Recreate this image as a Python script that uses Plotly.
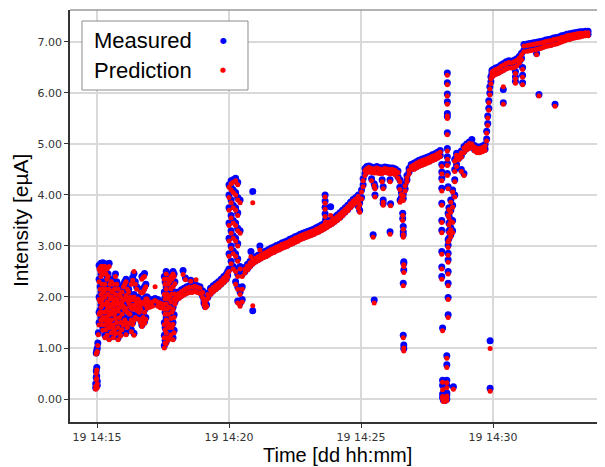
import numpy as np
import pandas as pd
import plotly.graph_objects as go

# ---------------- data (time = minutes after 14:00 on day 19) ----------------
# each time has one or more measured values and matching predicted values

start_time = [14.95, 14.97, 14.99, 15.01, 15.03, 15.05]
start_meas = [[0.22, 0.30], [0.42, 0.55, 0.90], [0.62, 0.45, 0.95], [0.27, 0.35, 1.00], [1.10], [1.30]]
start_pred = [[0.19, 0.25], [0.38, 0.50, 0.88], [0.57, 0.40, 0.90], [0.22, 0.30, 0.93], [1.05], [1.26]]

noisy_time = [15.08, 15.15, 15.22, 15.30, 15.38, 15.46, 15.54, 15.62, 15.70, 15.80,
              15.90, 16.00, 16.10, 16.20, 16.30, 16.40, 16.50, 16.60, 16.70, 16.80, 16.90]
noisy_meas = [[2.62, 2.35, 2.00, 1.70, 1.50], [2.66, 2.45, 2.10, 1.85, 1.60],
              [2.67, 2.50, 2.20, 1.90, 1.65, 1.40], [2.65, 2.30, 2.05, 1.75, 1.50, 1.25],
              [2.60, 2.40, 1.95, 1.80, 1.55, 1.30], [2.66, 2.20, 1.90, 1.70, 1.45, 1.20],
              [2.35, 2.05, 1.85, 1.60, 1.35], [2.30, 2.00, 1.80, 1.50, 1.25],
              [2.45, 2.10, 1.90, 1.62, 1.32], [2.20, 1.95, 1.75, 1.45, 1.20],
              [2.05, 1.85, 1.55, 1.28], [2.25, 2.00, 1.85, 1.50],
              [2.35, 2.08, 1.82, 1.55, 1.30], [2.15, 1.92, 1.72, 1.52],
              [2.30, 1.98, 1.82, 1.60, 1.36], [2.46, 2.05, 1.88, 1.58, 1.29],
              [2.20, 1.95, 1.78, 1.62], [1.95, 1.85, 1.75, 1.60],
              [2.40, 2.12, 1.90, 1.60, 1.45], [2.46, 2.20, 1.95, 1.75, 1.52],
              [2.00, 1.90, 1.82]]
noisy_pred = [[2.55, 2.30, 1.95, 1.66, 1.45], [2.60, 2.40, 2.05, 1.80, 1.55],
              [2.60, 2.45, 2.15, 1.85, 1.60, 1.35], [2.60, 2.25, 2.00, 1.70, 1.45, 1.20],
              [2.55, 2.35, 1.90, 1.75, 1.50, 1.25], [2.60, 2.15, 1.85, 1.65, 1.40, 1.16],
              [2.30, 2.00, 1.80, 1.55, 1.30], [2.25, 1.95, 1.75, 1.45, 1.20],
              [2.40, 2.05, 1.85, 1.58, 1.28], [2.15, 1.90, 1.72, 1.40, 1.16],
              [2.00, 1.80, 1.50, 1.24], [2.20, 1.95, 1.82, 1.45],
              [2.30, 2.03, 1.78, 1.50, 1.26], [2.10, 1.88, 1.68, 1.48],
              [2.25, 1.94, 1.78, 1.55, 1.32], [2.50, 2.00, 1.84, 1.54, 1.25],
              [2.15, 1.90, 1.74, 1.58], [1.90, 1.82, 1.70, 1.56],
              [2.35, 2.08, 1.86, 1.55, 1.42], [2.40, 2.15, 1.90, 1.70, 1.48],
              [1.96, 1.86, 1.78]]

noisy2_time = [15.12, 15.19, 15.26, 15.34, 15.42, 15.50, 15.58, 15.66, 15.75, 15.85,
               15.95, 16.05, 16.15, 16.25, 16.35, 16.45, 16.55, 16.65, 16.75, 16.85,
               16.95, 17.58, 17.66, 17.75, 17.84, 17.92]
noisy2_meas = [[2.55, 2.20, 1.95, 1.75], [2.60, 2.30, 2.00, 1.75, 1.50],
               [2.55, 2.15, 1.90, 1.60], [2.50, 2.20, 1.90, 1.65, 1.40],
               [2.45, 2.10, 1.85, 1.60], [2.30, 2.00, 1.75, 1.50],
               [2.15, 1.90, 1.70, 1.45], [2.20, 1.95, 1.70, 1.40],
               [2.30, 2.00, 1.80, 1.55], [2.10, 1.90, 1.65, 1.35],
               [2.15, 1.95, 1.70, 1.40], [2.30, 2.00, 1.78, 1.60],
               [2.20, 1.98, 1.75, 1.45], [2.05, 1.88, 1.70],
               [2.38, 2.00, 1.80, 1.50], [2.30, 1.98, 1.82, 1.65],
               [2.00, 1.88, 1.78], [2.15, 1.95, 1.80, 1.55],
               [2.42, 2.15, 1.92, 1.65], [2.25, 2.00, 1.88, 1.60],
               [1.95, 1.86], [2.30, 2.00, 1.70, 1.40, 1.15],
               [2.40, 2.10, 1.80, 1.55, 1.25], [2.35, 2.05, 1.85, 1.50, 1.25],
               [2.40, 2.10, 1.75, 1.45], [2.45, 2.00, 1.65, 1.35]]
noisy2_pred = [[2.50, 2.15, 1.90, 1.70], [2.55, 2.25, 1.95, 1.70, 1.46],
               [2.50, 2.10, 1.86, 1.56], [2.45, 2.15, 1.86, 1.60, 1.36],
               [2.40, 2.05, 1.80, 1.56], [2.25, 1.96, 1.70, 1.46],
               [2.10, 1.86, 1.66, 1.40], [2.15, 1.90, 1.66, 1.36],
               [2.25, 1.96, 1.76, 1.50], [2.05, 1.86, 1.60, 1.30],
               [2.10, 1.90, 1.66, 1.36], [2.25, 1.96, 1.74, 1.55],
               [2.15, 1.94, 1.70, 1.40], [2.00, 1.84, 1.66],
               [2.33, 1.96, 1.76, 1.46], [2.25, 1.94, 1.78, 1.60],
               [1.96, 1.84, 1.74], [2.10, 1.90, 1.76, 1.50],
               [2.38, 2.10, 1.88, 1.60], [2.20, 1.96, 1.84, 1.56],
               [1.90, 1.82], [2.25, 1.96, 1.66, 1.36, 1.10],
               [2.35, 2.05, 1.76, 1.50, 1.20], [2.30, 2.00, 1.80, 1.46, 1.20],
               [2.35, 2.06, 1.70, 1.40], [2.40, 1.96, 1.60, 1.30]]

calm_time = [17.00, 17.10, 17.20, 17.30, 17.40, 17.50,
             17.55, 17.62, 17.70, 17.80, 17.88, 17.95,
             18.00, 18.10, 18.20, 18.30, 18.40, 18.50, 18.60, 18.70, 18.80, 18.90,
             19.00, 19.05, 19.10, 19.15, 19.20, 19.30, 19.40, 19.50, 19.60, 19.70,
             19.80, 19.90, 19.95]
calm_meas = [[1.92, 1.84], [1.95, 1.86], [1.97, 1.88], [1.95, 1.86], [1.92, 1.83], [1.90, 1.82],
             [2.40, 2.10, 1.80, 1.50, 1.25, 1.05], [2.50, 2.20, 1.90, 1.60, 1.35, 1.12],
             [2.30, 2.00, 1.70, 1.45, 1.20], [2.45, 2.20, 1.95, 1.62, 1.30],
             [2.50, 2.25, 1.80, 1.50, 1.20], [2.30, 2.10, 1.90],
             [2.05, 1.96], [2.10, 2.00], [2.14, 2.04], [2.17, 2.07], [2.20, 2.10],
             [2.22, 2.12], [2.22, 2.12], [2.24, 2.14], [2.22, 2.12], [2.20, 2.10],
             [2.12, 2.02], [1.95, 1.88], [1.82, 1.90], [1.85, 1.98], [2.08, 2.00],
             [2.17, 2.08], [2.22, 2.13], [2.26, 2.17], [2.30, 2.21], [2.35, 2.26],
             [2.40, 2.31], [2.45, 2.36], [2.50, 2.42]]
calm_pred = [[1.88, 1.80], [1.90, 1.82], [1.93, 2.20], [1.90, 1.82], [1.88, 1.79], [1.86, 1.78],
             [2.35, 2.05, 1.76, 1.46, 1.20, 1.00], [2.45, 2.15, 1.86, 1.55, 1.30, 1.08],
             [2.25, 1.96, 1.66, 1.40, 1.15], [2.40, 2.16, 1.90, 1.58, 1.26],
             [2.45, 2.20, 1.76, 1.46, 1.16], [2.26, 2.06, 1.86],
             [2.02, 1.93], [2.07, 1.97], [2.11, 2.01], [2.14, 2.04], [2.17, 2.07],
             [2.19, 2.09], [2.19, 2.09], [2.21, 2.11], [2.19, 2.09], [2.17, 2.07],
             [2.09, 1.99], [1.92, 1.85], [1.79, 1.87], [1.82, 1.95], [2.05, 1.97],
             [2.14, 2.05], [2.19, 2.10], [2.23, 2.14], [2.27, 2.18], [2.32, 2.23],
             [2.37, 2.28], [2.42, 2.33], [2.47, 2.39]]

jump_time = [20.00, 20.08, 20.16, 20.25, 20.33, 20.42, 20.50]
jump_meas = [[2.55, 2.85, 3.15, 3.45, 3.75, 4.00, 4.20],
             [2.70, 3.00, 3.30, 3.60, 3.90, 4.15, 4.28],
             [2.60, 2.90, 3.20, 3.50, 3.80, 4.10, 4.30],
             [4.33, 4.05, 3.75, 3.45, 3.15, 2.85, 2.55, 2.30],
             [4.25, 3.95, 3.65, 3.35, 3.05, 2.75, 2.45, 2.20, 1.92],
             [3.90, 3.30, 2.60, 2.10, 1.88],
             [1.95, 2.20, 2.45]]
jump_pred = [[2.50, 2.80, 3.10, 3.40, 3.70, 3.95, 4.15],
             [2.65, 2.95, 3.25, 3.55, 3.85, 4.10, 4.22],
             [2.55, 2.85, 3.15, 3.45, 3.75, 4.05, 4.25],
             [4.28, 4.00, 3.70, 3.40, 3.10, 2.80, 2.50, 2.25],
             [4.20, 3.90, 3.60, 3.30, 3.00, 2.70, 2.40, 2.15, 1.88],
             [3.85, 3.25, 2.55, 2.05, 1.82],
             [1.90, 2.15, 2.40]]

ramp_time = [20.6, 20.7, 20.8, 20.9, 21.0, 21.1, 21.2, 21.3, 21.4, 21.5,
             21.6, 21.7, 21.8, 21.9, 22.0, 22.1, 22.2, 22.3, 22.4, 22.5,
             22.6, 22.7, 22.8, 22.9, 23.0, 23.1, 23.2, 23.3, 23.4, 23.5,
             23.6, 23.7, 23.8, 23.9, 24.0, 24.1, 24.2, 24.3, 24.4, 24.5,
             24.6, 24.7, 24.8, 24.9, 24.95]
ramp_meas = [[2.58, 2.50], [2.64, 2.56], [2.70, 2.62], [2.75, 2.67], [2.79, 2.71],
             [2.82, 2.74], [2.85, 2.77], [2.88, 2.80], [2.90, 2.82], [2.93, 2.85],
             [2.96, 2.88], [2.98, 2.90], [3.01, 2.93], [3.03, 2.95], [3.06, 2.98],
             [3.08, 3.00], [3.10, 3.02], [3.13, 3.05], [3.15, 3.07], [3.18, 3.10],
             [3.20, 3.12], [3.23, 3.15], [3.25, 3.17], [3.27, 3.19], [3.29, 3.21],
             [3.31, 3.23], [3.33, 3.25], [3.36, 3.28], [3.38, 3.30], [3.41, 3.33],
             [3.44, 3.36], [3.47, 3.39], [3.50, 3.42], [3.53, 3.45], [3.57, 3.49],
             [3.61, 3.53], [3.65, 3.57], [3.70, 3.62], [3.75, 3.67], [3.80, 3.72],
             [3.86, 3.78], [3.91, 3.83], [3.95, 3.87], [4.00, 3.90, 3.78], [3.70, 3.85]]
ramp_pred = [[2.55, 2.47], [2.61, 2.53], [2.67, 2.59], [2.72, 2.64], [2.76, 2.68],
             [2.79, 2.71], [2.82, 2.74], [2.85, 2.77], [2.87, 2.79], [2.90, 2.82],
             [2.93, 2.85], [2.95, 2.87], [2.98, 2.90], [3.00, 2.92], [3.03, 2.95],
             [3.05, 2.97], [3.07, 2.99], [3.10, 3.02], [3.12, 3.04], [3.15, 3.07],
             [3.17, 3.09], [3.20, 3.12], [3.22, 3.14], [3.24, 3.16], [3.26, 3.18],
             [3.28, 3.20], [3.30, 3.22], [3.33, 3.25], [3.35, 3.27], [3.38, 3.30],
             [3.41, 3.33], [3.44, 3.36], [3.47, 3.39], [3.50, 3.42], [3.54, 3.46],
             [3.58, 3.50], [3.62, 3.54], [3.67, 3.59], [3.72, 3.64], [3.77, 3.69],
             [3.83, 3.75], [3.88, 3.80], [3.92, 3.84], [3.97, 3.87, 3.74], [3.66, 3.81]]

plateau_time = [25.02, 25.08, 25.15, 25.22, 25.30, 25.40, 25.50, 25.60, 25.70, 25.80,
                25.90, 26.00, 26.10, 26.20, 26.30, 26.40, 26.47, 26.53, 26.60, 26.67,
                26.74, 26.82, 26.90, 27.00, 27.10, 27.20, 27.30, 27.40, 27.50, 27.60,
                27.70, 27.80, 27.90, 28.00]
plateau_meas = [[3.95, 4.10], [4.20, 4.32], [4.42, 4.52], [4.56, 4.48], [4.57, 4.48],
                [4.55, 4.47, 4.32], [4.54, 4.46, 4.22], [4.56, 4.46], [4.54, 4.45],
                [4.53, 4.45, 4.30], [4.55, 4.47], [4.54, 4.46], [4.53, 4.44, 4.30],
                [4.53, 4.45], [4.51, 4.42], [4.47, 4.36], [4.30, 4.15], [4.05, 3.95],
                [3.93, 4.02], [4.12, 4.22], [4.30, 4.38], [4.45, 4.52], [4.55, 4.60],
                [4.62, 4.53], [4.65, 4.56], [4.68, 4.59], [4.70, 4.61], [4.72, 4.63],
                [4.74, 4.65], [4.76, 4.67], [4.79, 4.70], [4.81, 4.72], [4.84, 4.75],
                [4.87, 4.78]]
plateau_pred = [[3.92, 4.06], [4.16, 4.28], [4.38, 4.48], [4.52, 4.44], [4.54, 4.45],
                [4.52, 4.44, 4.28], [4.51, 4.43, 4.18], [4.53, 4.43], [4.51, 4.42],
                [4.50, 4.42, 4.26], [4.52, 4.44], [4.51, 4.43], [4.50, 4.41, 4.26],
                [4.50, 4.42], [4.48, 4.39], [4.44, 4.33], [4.26, 4.11], [4.01, 3.91],
                [3.89, 3.98], [4.08, 4.18], [4.26, 4.34], [4.41, 4.48], [4.51, 4.56],
                [4.59, 4.50], [4.62, 4.53], [4.65, 4.56], [4.67, 4.58], [4.69, 4.60],
                [4.71, 4.62], [4.73, 4.64], [4.76, 4.67], [4.78, 4.69], [4.81, 4.72],
                [4.84, 4.75]]

dip_time = [28.06, 28.09, 28.12, 28.18, 28.25, 28.27, 28.30, 28.50]
dip_meas = [[4.60, 4.45, 4.33, 4.13, 3.84, 3.50, 3.31, 2.89, 2.59, 2.40],
            [1.39, 0.37, 0.27, 0.10, 0.03],
            [-0.02, 0.05],
            [0.04, -0.03],
            [0.85, 0.67, 0.37, 0.27, 0.08, 0.00, 0.12],
            [6.39, 6.20, 5.98, 5.83, 5.60, 5.54, 5.22, 4.91, 4.75, 4.62, 4.42],
            [4.16, 3.64, 3.12, 3.02, 2.86, 2.73, 2.50, 2.27, 1.99, 1.65],
            [0.24]]
dip_pred = [[4.56, 4.41, 4.28, 4.08, 3.80, 3.46, 3.26, 2.84, 2.55, 2.35],
            [1.34, 0.33, 0.18, 0.05, 0.00],
            [-0.05, 0.02],
            [0.00, -0.05],
            [0.80, 0.62, 0.32, 0.22, 0.02, -0.03, 0.06],
            [6.35, 6.16, 5.94, 5.78, 5.55, 5.50, 5.18, 4.86, 4.70, 4.58, 4.38],
            [4.12, 3.60, 3.08, 2.97, 2.82, 2.68, 2.45, 2.22, 1.95, 1.60],
            [0.19]]

recover_time = [28.33, 28.40, 28.47, 28.55, 28.62, 28.70, 28.80, 28.90, 29.00, 29.10,
                29.20, 29.30, 29.40, 29.50, 29.60, 29.70, 29.76, 29.80, 29.84, 29.88,
                29.92, 29.96]
recover_meas = [[3.15, 3.30, 3.45, 3.60, 3.75], [3.22, 3.36, 3.52, 3.70, 3.90],
                [3.30, 3.50, 3.80, 4.10], [4.00, 4.30, 4.50, 4.70], [4.60, 4.75, 4.82],
                [4.80, 4.72], [4.86, 4.77, 4.50], [4.95, 4.86, 4.42], [5.00, 4.91],
                [5.04, 4.94], [5.09, 4.96], [4.97, 4.89], [4.94, 4.86], [4.94, 4.86],
                [4.96, 4.88], [4.99, 4.90], [5.10, 5.25], [5.40, 5.55], [5.70, 5.85],
                [6.00, 6.12], [6.22, 6.32], [6.38, 6.44]]
recover_pred = [[3.11, 3.26, 3.41, 3.56, 3.71], [3.18, 3.32, 3.48, 3.66, 3.86],
                [3.26, 3.46, 3.76, 4.06], [3.96, 4.26, 4.46, 4.66], [4.56, 4.71, 4.78],
                [4.77, 4.69], [4.83, 4.74, 4.46], [4.92, 4.83, 4.38], [4.97, 4.88],
                [5.01, 4.91], [5.00, 4.93], [4.94, 4.86], [4.91, 4.83], [4.91, 4.83],
                [4.93, 4.85], [4.96, 4.87], [5.06, 5.21], [5.36, 5.51], [5.66, 5.81],
                [5.96, 6.08], [6.18, 6.28], [6.34, 6.40]]

top_time = [30.0, 30.1, 30.2, 30.3, 30.4, 30.5, 30.6, 30.7, 30.8, 30.85,
            30.9, 31.0, 31.08, 31.12, 31.17, 31.3, 31.4, 31.5, 31.6, 31.7,
            31.8, 31.9, 32.0, 32.1, 32.2, 32.3, 32.4, 32.5, 32.6, 32.7,
            32.8, 32.9, 33.0, 33.1, 33.2, 33.3, 33.4, 33.5, 33.6]
top_meas = [[6.46, 6.36], [6.49, 6.39], [6.51, 6.41], [6.55, 6.44], [6.58, 6.47],
            [6.61, 6.50], [6.63, 6.52], [6.62, 6.52], [6.64, 6.53], [6.42, 6.32, 6.23],
            [6.67, 6.56], [6.72, 6.62], [6.78, 6.68], [6.50, 6.35, 6.20], [6.95, 6.84],
            [6.96, 6.85], [6.97, 6.86], [6.98, 6.87], [6.99, 6.88], [7.00, 6.89],
            [7.01, 6.90], [7.02, 6.92], [7.04, 6.94], [7.05, 6.95], [7.06, 6.96],
            [7.08, 6.98], [7.09, 6.99], [7.10, 7.01], [7.12, 7.03], [7.13, 7.05],
            [7.15, 7.07], [7.16, 7.08], [7.17, 7.10], [7.18, 7.11], [7.19, 7.12],
            [7.20, 7.13], [7.20, 7.14], [7.21, 7.15], [7.21, 7.15]]
top_pred = [[6.43, 6.33], [6.46, 6.36], [6.48, 6.38], [6.52, 6.41], [6.55, 6.44],
            [6.58, 6.47], [6.60, 6.49], [6.59, 6.49], [6.61, 6.50], [6.38, 6.28, 6.19],
            [6.64, 6.53], [6.69, 6.59], [6.75, 6.65], [6.46, 6.31, 6.16], [6.92, 6.81],
            [6.93, 6.82], [6.94, 6.83], [6.95, 6.84], [6.96, 6.85], [6.97, 6.86],
            [6.98, 6.87], [6.99, 6.89], [7.01, 6.91], [7.02, 6.92], [7.03, 6.93],
            [7.05, 6.95], [7.06, 6.96], [7.07, 6.98], [7.09, 7.00], [7.10, 7.02],
            [7.12, 7.04], [7.13, 7.05], [7.14, 7.07], [7.15, 7.08], [7.16, 7.09],
            [7.17, 7.10], [7.17, 7.11], [7.18, 7.12], [7.18, 7.12]]

# isolated outlier samples
outlier_time = [18.26, 18.35, 18.55, 18.75, 20.83, 20.90, 20.90, 21.17,
                23.64, 23.64, 23.64, 23.64, 23.66, 23.85,
                25.46, 25.50, 25.53, 25.53, 25.84, 25.84, 25.84, 26.12, 26.10, 26.48,
                26.58, 26.58, 26.60, 26.60, 26.60, 26.62, 26.62, 26.62, 26.60, 26.60, 26.62, 26.62,
                29.89, 29.89, 30.39, 30.39, 31.65, 31.74, 32.35]
outlier_meas = [2.52, 2.37, 2.33, 2.20, 2.89, 4.07, 1.73, 3.00,
                4.00, 3.88, 3.76, 3.63, 3.52, 3.77,
                3.22, 1.94, 4.16, 4.00, 4.16, 3.90, 3.84, 3.83, 3.28, 3.90,
                3.64, 3.54, 3.38, 3.28, 3.22, 2.69, 2.66, 2.53, 2.27, 1.25, 1.06, 0.99,
                1.14, 0.21, 6.07, 5.81, 6.78, 5.97, 5.78]
outlier_pred = [2.44, 2.34, 2.31, 2.34, 2.79, 3.85, 1.83, 2.92,
                3.96, 3.84, 3.72, 3.58, 3.47, 3.60,
                3.17, 1.88, 4.12, 3.96, 4.12, 3.86, 3.80, 3.79, 3.23, 3.86,
                3.60, 3.50, 3.33, 3.22, 3.17, 2.63, 2.60, 2.48, 2.22, 1.20, 1.00, 0.94,
                0.99, 0.15, 6.12, 5.78, 6.75, 5.94, 5.74]

# ---------------- assemble ----------------
groups = [(start_time, start_meas, start_pred), (noisy_time, noisy_meas, noisy_pred),
          (noisy2_time, noisy2_meas, noisy2_pred),
          (calm_time, calm_meas, calm_pred), (jump_time, jump_meas, jump_pred),
          (ramp_time, ramp_meas, ramp_pred), (plateau_time, plateau_meas, plateau_pred),
          (dip_time, dip_meas, dip_pred), (recover_time, recover_meas, recover_pred),
          (top_time, top_meas, top_pred)]

t_all, m_all, p_all = [], [], []
for times, meas, pred in groups:
    for t, ms, ps in zip(times, meas, pred):
        n = min(len(ms), len(ps))
        t_all += [t] * n
        m_all += ms[:n]
        p_all += ps[:n]
t_all += outlier_time
m_all += outlier_meas
p_all += outlier_pred

base = pd.Timestamp("2021-01-19 14:00:00")
x_dt = base + pd.to_timedelta(np.array(t_all), unit="min")

fig = go.Figure()
fig.add_trace(go.Scatter(x=x_dt, y=m_all, mode="markers", name="Measured",
                         marker=dict(color="#0000ff", size=7, line=dict(width=0)),
                         showlegend=False))
fig.add_trace(go.Scatter(x=x_dt, y=p_all, mode="markers", name="Prediction",
                         marker=dict(color="#ff0000", size=5, line=dict(width=0)),
                         showlegend=False))

x_range = [base + pd.Timedelta(minutes=13.977), base + pd.Timedelta(minutes=34.242)]

tick_font = dict(family="DejaVu Sans", size=11, color="#333333")
fig.update_xaxes(range=x_range, type="date",
                 tick0=base + pd.Timedelta(minutes=15), dtick=300000,
                 tickformat="%d %H:%M", tickfont=tick_font,
                 showgrid=True, gridcolor="#d9d9d9", gridwidth=1.5,
                 showline=True, linecolor="#333333", linewidth=1.5,
                 ticks="outside", ticklen=4, tickcolor="#333333", zeroline=False)
fig.update_yaxes(range=[-0.451, 7.627], tickvals=[0, 1, 2, 3, 4, 5, 6, 7],
                 tickformat=".2f", tickfont=tick_font,
                 showgrid=True, gridcolor="#d9d9d9", gridwidth=1.5,
                 showline=True, linecolor="#333333", linewidth=1.5,
                 ticks="outside", ticklen=4, tickcolor="#333333", zeroline=False)

title_font = dict(family="Liberation Sans", size=20, color="#000000")
legend_font = dict(family="Liberation Sans", size=22, color="#000000")

annotations = [
    dict(text="Time [dd hh:mm]", xref="paper", yref="paper", x=0.5, y=-0.08,
         xanchor="center", yanchor="middle", showarrow=False, font=title_font),
    dict(text="Intensity [eµA]", xref="paper", yref="paper", x=-0.0935, y=0.49,
         xanchor="center", yanchor="middle", textangle=-90, showarrow=False,
         font=dict(family="Liberation Sans", size=21, color="#000000")),
    dict(text="Measured", xref="paper", yref="paper", x=0.041, y=0.927,
         xanchor="left", yanchor="middle", showarrow=False, font=legend_font),
    dict(text="Prediction", xref="paper", yref="paper", x=0.041, y=0.854,
         xanchor="left", yanchor="middle", showarrow=False, font=legend_font),
    dict(text="●", xref="paper", yref="paper", x=0.286, y=0.927,
         xanchor="center", yanchor="middle", showarrow=False,
         font=dict(family="DejaVu Sans", size=8, color="#0000ff")),
    dict(text="●", xref="paper", yref="paper", x=0.286, y=0.854,
         xanchor="center", yanchor="middle", showarrow=False,
         font=dict(family="DejaVu Sans", size=7, color="#ff0000")),
]

shapes = [
    dict(type="rect", xref="paper", yref="paper", x0=0.0224, x1=0.3327, y0=0.8058, y1=0.9733,
         line=dict(color="#8c8c8c", width=1), fillcolor="white", layer="above"),
    dict(type="line", xref="paper", yref="paper", x0=0, x1=1, y0=1, y1=1,
         line=dict(color="#999999", width=1.5)),
]

# the page adds an 8px body margin, so the figure is sized to fill the rest of the window
fig.update_layout(width=597, height=459, margin=dict(l=62, r=0, t=2, b=45),
                  plot_bgcolor="white", paper_bgcolor="white",
                  annotations=annotations, shapes=shapes)

fig.write_html("out.html")
